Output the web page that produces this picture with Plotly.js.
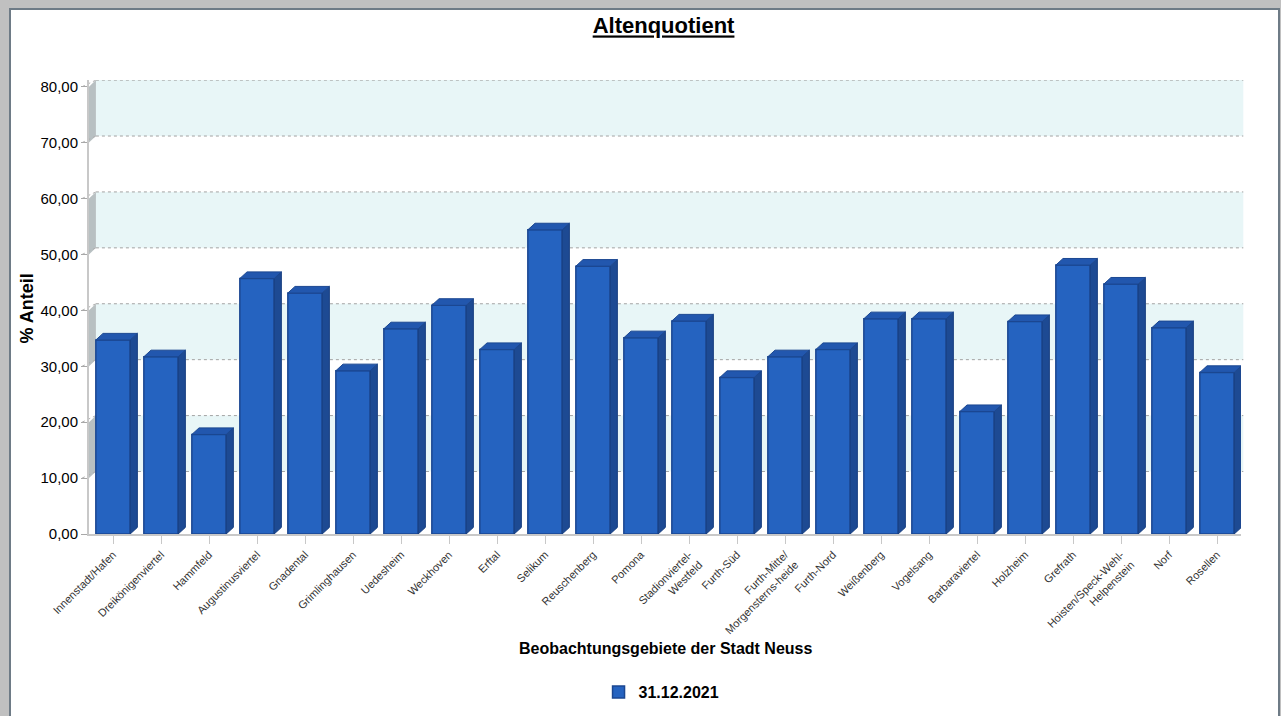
<!DOCTYPE html>
<html>
<head>
<meta charset="utf-8">
<script src="https://cdn.plot.ly/plotly-3.0.1.min.js"></script>
<style>
  html, body { margin: 0; padding: 0; width: 1281px; height: 716px; overflow: hidden; background: #C0C0C0; }
  #frame { position: absolute; left: 9px; top: 8px; width: 1267px; height: 720px; background: #FFFFFF;
           border-left: 2px solid #6E7B86; border-top: 2px solid #6E7B86; border-right: 2px solid #6E7B86; }
  #chart { position: absolute; left: 0; top: 0; width: 1281px; height: 716px; }
</style>
</head>
<body>
<div id="frame"></div>
<div id="chart"></div>
<script>
const categories = [
  "Innenstadt/Hafen", "Dreikönigenviertel", "Hammfeld", "Augustinusviertel", "Gnadental",
  "Grimlinghausen", "Uedesheim", "Weckhoven", "Erftal", "Selikum", "Reuschenberg", "Pomona",
  "Stadionviertel-<br>Westfeld", "Furth-Süd", "Furth-Mitte/<br>Morgensterns-heide", "Furth-Nord",
  "Weißenberg", "Vogelsang", "Barbaraviertel", "Holzheim", "Grefrath",
  "Hoisten/Speck-Wehl-<br>Helpenstein", "Norf", "Rosellen"
];
const values2021 = [
  34.7, 31.7, 17.8, 45.7, 43.1, 29.2, 36.7, 40.9, 33.0, 54.4, 47.9, 35.1,
  38.1, 28.0, 31.7, 33.0, 38.5, 38.5, 21.9, 38.0, 48.1, 44.7, 36.9, 28.9
];
const seriesName = "31.12.2021";
const yTicks = [0, 10, 20, 30, 40, 50, 60, 70, 80];
const bandRanges = [[10, 20], [30, 40], [50, 60], [70, 80]];

// 3D look parameters (depth of the pseudo-3D effect)
const BAR_W = 0.715;      // front face width in category units
const DX = 0.15;          // depth offset, category units
const DY = 1.18;          // depth offset, value units
const WALL_DX = 0.006;    // depth offset in paper units for back wall

const FONT = "Liberation Sans, Arial, sans-serif";
const shapes = [];

// background bands on the back wall + left side wall
bandRanges.forEach(function (b) {
  shapes.push({ type: "rect", xref: "paper", yref: "y", x0: WALL_DX, x1: 1.002, y0: b[0] + DY, y1: b[1] + DY,
    fillcolor: "#E8F6F7", line: { width: 0 }, layer: "below" });
  shapes.push({ type: "path", xref: "paper", yref: "y",
    path: "M 0," + b[0] + " L " + WALL_DX + "," + (b[0] + DY) + " L " + WALL_DX + "," + (b[1] + DY) + " L 0," + b[1] + " Z",
    fillcolor: "#B8C0C2", line: { width: 0 }, layer: "below" });
});
// grid lines on the back wall
yTicks.forEach(function (t) {
  if (t === 0) return;
  shapes.push({ type: "line", xref: "paper", yref: "y", x0: WALL_DX, x1: 1.002, y0: t + DY, y1: t + DY,
    line: { color: "#A3A3A3", width: 1, dash: "dot" }, layer: "below" });
  shapes.push({ type: "line", xref: "paper", yref: "y", x0: -0.006, x1: WALL_DX, y0: t, y1: t + DY,
    line: { color: "#B0B0B0", width: 1, dash: "dot" }, layer: "below" });
});
// side and top faces of bars
values2021.forEach(function (v, i) {
  const l = i - BAR_W / 2, r = i + BAR_W / 2;
  shapes.push({ type: "path", xref: "x", yref: "y",
    path: "M " + r + ",0 L " + (r + DX) + "," + DY + " L " + (r + DX) + "," + (v + DY) + " L " + r + "," + v + " Z",
    fillcolor: "#1D4A93", line: { color: "#183F80", width: 1 }, layer: "above" });
  shapes.push({ type: "path", xref: "x", yref: "y",
    path: "M " + l + "," + v + " L " + (l + DX) + "," + (v + DY) + " L " + (r + DX) + "," + (v + DY) + " L " + r + "," + v + " Z",
    fillcolor: "#2257AE", line: { color: "#1B4791", width: 1 }, layer: "above" });
});

const trace = {
  type: "bar",
  x: categories,
  y: values2021,
  name: seriesName,
  width: BAR_W,
  marker: { color: "#2563C0", line: { color: "#1B4791", width: 1.5 } },
  hoverinfo: "x+y"
};

const layout = {
  width: 1281, height: 716,
  paper_bgcolor: "rgba(0,0,0,0)",
  plot_bgcolor: "rgba(0,0,0,0)",
  margin: { l: 89, r: 40, t: 80, b: 182, autoexpand: false },
  separators: ",.",
  title: { text: "<b><u>Altenquotient</u></b>", x: 0.518, xanchor: "center", y: 0.964, yanchor: "middle",
           font: { family: FONT, size: 22, color: "#000000" } },
  xaxis: {
    type: "category",
    range: [-0.5, 23.5],
    automargin: false,
    tickangle: -45,
    tickfont: { family: FONT, size: 11, color: "#333333" },
    ticks: "outside", ticklen: 8, tickcolor: "#C8C8C8", tickwidth: 1,
    showline: true, linecolor: "#C8C8C8", linewidth: 2,
    showgrid: false
  },
  yaxis: {
    range: [0, 81.2],
    automargin: false,
    tickvals: yTicks,
    tickformat: ".2f",
    tickfont: { family: FONT, size: 15, color: "#000000" },
    ticks: "outside", ticklen: 6, tickcolor: "#A8A8A8",
    showline: true, linecolor: "#C8C8C8", linewidth: 2,
    showgrid: false,
    zeroline: false
  },
  annotations: [
    { text: "<b>% Anteil</b>", xref: "paper", yref: "paper", x: -0.054, y: 0.496,
      xanchor: "center", yanchor: "middle", textangle: -90, showarrow: false,
      font: { family: FONT, size: 18, color: "#000000" } },
    { text: "<b>Beobachtungsgebiete der Stadt Neuss</b>", xref: "paper", yref: "paper", x: 0.5, y: -0.253,
      xanchor: "center", yanchor: "middle", showarrow: false,
      font: { family: FONT, size: 16, color: "#000000" } }
  ],
  shapes: shapes,
  showlegend: true,
  legend: { orientation: "h", x: 0.497, xanchor: "center", y: -0.348, yanchor: "middle",
            font: { family: FONT, size: 16, color: "#000000", weight: "bold" } },
  bargap: 0.28
};

Plotly.newPlot("chart", [trace], layout, { displayModeBar: false, staticPlot: true });
</script>
</body>
</html>
